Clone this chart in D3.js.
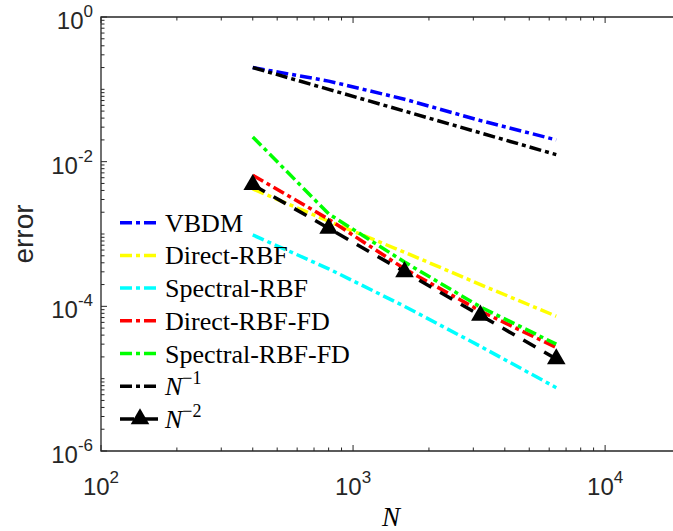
<!DOCTYPE html>
<html>
<head>
<style>
    body { margin: 0; background: #fff; }
</style>
</head>
<body>
<svg id="chart" width="673" height="531"></svg>
<script src="https://d3js.org/d3.v7.min.js"></script>
<script>
    // values
    let N = [400, 800, 1600, 3200, 6400]
    let vbdm = [0.2, 0.13, 0.073, 0.037, 0.02]
    let directRBF = [0.0042, 0.0015, 5.6e-4, 2.0e-4, 7.3e-5]
    let spectralRBF = [9.7e-4, 3.3e-4, 1.0e-4, 2.8e-5, 7.5e-6]
    let directRBFFD = [0.0065, 0.0016, 3.3e-4, 8.6e-5, 2.7e-5]
    let spectralRBFFD = [0.022, 0.0019, 4.1e-4, 9.8e-5, 3.0e-5]
    let refN1 = [0.2, 0.1, 0.05, 0.025, 0.0125]
    let refN2 = [0.0048, 0.0012, 3.0e-4, 7.5e-5, 1.875e-5]

    let xTickExp = [2, 3, 4]
    let yTickExp = [0, -2, -4, -6]

    let series = [
        {name: 'VBDM', vals: vbdm, color: '#0000ff', dash: '12,4,4,4'},
        {name: 'Direct-RBF', vals: directRBF, color: '#ffff00', dash: '12,4,4,4'},
        {name: 'Spectral-RBF', vals: spectralRBF, color: '#00ffff', dash: '12,4,4,4'},
        {name: 'Direct-RBF-FD', vals: directRBFFD, color: '#ff0000', dash: '12,4,4,4'},
        {name: 'Spectral-RBF-FD', vals: spectralRBFFD, color: '#00ff00', dash: '12,4,4,4'},
        {name: 'N1', vals: refN1, color: '#000000', dash: '12,4,4,4'},
        {name: 'N2', vals: refN2, color: '#000000', dash: '14,10', marker: true}
    ]

    let svg = d3.select('#chart')
    let pLeft = 101, pRight = 681, pTop = 17, pBottom = 451
    let axisColor = '#262626'

    let x = d3.scaleLog().domain([100, 20000]).range([pLeft, pRight])
    let y = d3.scaleLog().domain([1e-6, 1]).range([pBottom, pTop])

    // ticks (inward, MATLAB style)
    let g = svg.append('g').attr('stroke', axisColor).attr('stroke-width', 1)
    for (let e = 2; e <= 4; e++) {
        for (let m = 1; m <= 9; m++) {
            let v = m * Math.pow(10, e)
            if (v > 20000) continue
            let len = m == 1 ? 6 : 3.5
            g.append('line').attr('x1', x(v)).attr('x2', x(v)).attr('y1', pBottom).attr('y2', pBottom - len)
            g.append('line').attr('x1', x(v)).attr('x2', x(v)).attr('y1', pTop).attr('y2', pTop + len)
        }
    }
    for (let e = -6; e <= 0; e++) {
        for (let m = 1; m <= 9; m++) {
            let v = m * Math.pow(10, e)
            if (v > 1) continue
            let len = (m == 1 && e % 2 == 0) ? 6 : 3.5
            g.append('line').attr('x1', pLeft).attr('x2', pLeft + len).attr('y1', y(v)).attr('y2', y(v))
        }
    }

    // axis box lines
    svg.append('path')
        .attr('d', `M${pRight},${pTop}H${pLeft}V${pBottom}H${pRight}`)
        .attr('fill', 'none').attr('stroke', axisColor).attr('stroke-width', 1.3)

    // tick labels
    let lab = svg.append('g').attr('fill', axisColor)
        .style('font-family', 'Liberation Sans, Arial, sans-serif').style('font-size', '24px')
    xTickExp.forEach(function (e) {
        let t = lab.append('text').attr('x', x(Math.pow(10, e))).attr('y', 495).attr('text-anchor', 'middle')
        t.append('tspan').text('10')
        t.append('tspan').attr('dy', -12).style('font-size', '17px').text(e)
    })
    yTickExp.forEach(function (e) {
        let t = lab.append('text').attr('x', 93).attr('y', y(Math.pow(10, e)) + 12).attr('text-anchor', 'end')
        t.append('tspan').text('10')
        t.append('tspan').attr('dy', -12).style('font-size', '17px').text(e)
    })

    // axis titles
    svg.append('text').attr('x', (pLeft + pRight) / 2).attr('y', 526).attr('text-anchor', 'middle')
        .style('font-family', 'Liberation Serif, serif').style('font-style', 'italic').style('font-size', '27px')
        .text('N')
    svg.append('text').attr('transform', `translate(33,${(pTop + pBottom) / 2}) rotate(-90)`)
        .attr('text-anchor', 'middle').attr('fill', axisColor)
        .style('font-family', 'Liberation Sans, Arial, sans-serif').style('font-size', '28px')
        .text('error')

    // series lines
    let line = d3.line().x(function (d) { return x(d[0]) }).y(function (d) { return y(d[1]) })
    series.forEach(function (s) {
        let pts = N.map(function (n, i) { return [n, s.vals[i]] })
        svg.append('path').datum(pts).attr('d', line)
            .attr('fill', 'none').attr('stroke', s.color).attr('stroke-width', 3.5)
            .attr('stroke-dasharray', s.dash)
        if (s.marker) {
            svg.selectAll(null).data(pts).enter().append('path')
                .attr('d', d3.symbol().type(d3.symbolTriangle).size(150))
                .attr('transform', function (d) { return `translate(${x(d[0])},${y(d[1])})` })
                .attr('fill', '#000')
        }
    })

    // legend
    let leg = svg.append('g')
    series.forEach(function (s, i) {
        let ly = 222.7 + i * 32.7
        leg.append('line').attr('x1', 120).attr('x2', 160).attr('y1', ly).attr('y2', ly)
            .attr('stroke', s.color).attr('stroke-width', 3.5).attr('stroke-dasharray', s.dash)
        if (s.marker) {
            leg.append('path').attr('d', d3.symbol().type(d3.symbolTriangle).size(150))
                .attr('transform', `translate(140,${ly})`).attr('fill', '#000')
        }
        let t = leg.append('text').attr('x', 165).attr('y', ly + 9)
            .style('font-family', 'Liberation Serif, serif').style('font-size', '26px').attr('fill', '#000')
        if (s.name == 'N1' || s.name == 'N2') {
            t.append('tspan').style('font-style', 'italic').text('N')
            t.append('tspan').attr('dy', -11).style('font-size', '18px').text(s.name == 'N1' ? '\u22121' : '\u22122')
        } else {
            t.text(s.name)
        }
    })
</script>
</body>
</html>
